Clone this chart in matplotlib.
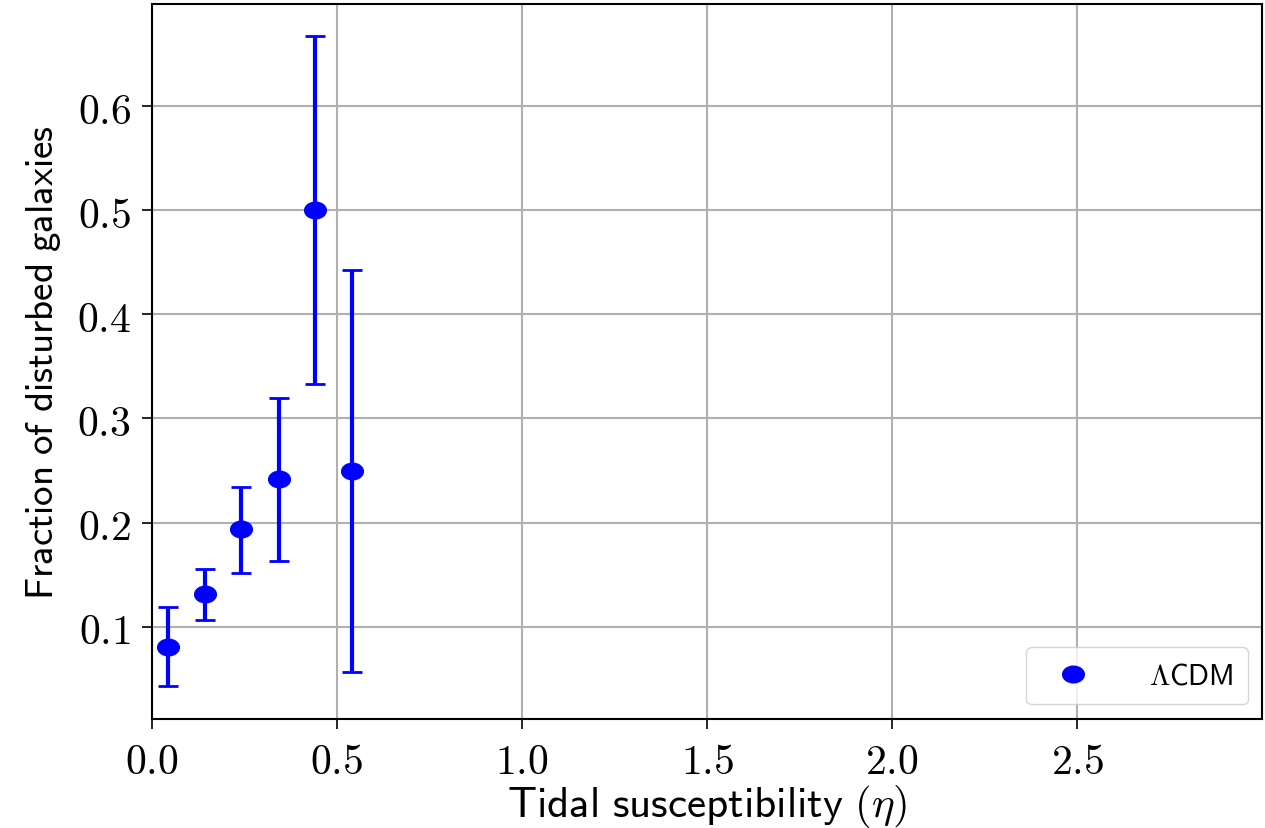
import numpy as np
import matplotlib.pyplot as plt
from matplotlib.markers import MarkerStyle
from matplotlib.transforms import Affine2D

plt.rcParams['mathtext.fontset'] = 'cm'

# binned tidal susceptibility and fraction of disturbed galaxies
eta = [0.043, 0.143, 0.242, 0.343, 0.442, 0.542]
frac = [0.080, 0.131, 0.194, 0.242, 0.500, 0.250]
err_lo = [0.0375, 0.025, 0.042, 0.079, 0.167, 0.194]
err_hi = [0.039, 0.024, 0.040, 0.078, 0.167, 0.193]

xticks = [0.0, 0.5, 1.0, 1.5, 2.0, 2.5]
yticks = [0.1, 0.2, 0.3, 0.4, 0.5, 0.6]

fig = plt.figure(figsize=(12.65, 8.29), dpi=100)
ax = fig.add_axes([0.120, 0.1315, 0.878, 0.8625])

# slightly wide dots
dot = MarkerStyle('o', transform=Affine2D().scale(1.3, 1.0))

ax.errorbar(eta, frac, yerr=[err_lo, err_hi], fmt='none', ecolor='blue',
            elinewidth=3.0, capsize=7, capthick=2.0, zorder=3)
ax.plot(eta, frac, linestyle='none', marker=dot, markersize=12, color='blue',
        label=r'$\Lambda\mathsf{CDM}$', zorder=4)

ax.set_xlim(0, 3.0)
ax.set_xticks(xticks)
ax.set_xticklabels([r'$%.1f$' % t for t in xticks])
ax.set_yticks(yticks)
ax.set_yticklabels([r'$%.1f$' % t for t in yticks])

ax.tick_params(labelsize=30, length=7, width=1.2, pad=8)
ax.grid(True, color='#b0b0b0', linewidth=1.5)
ax.set_axisbelow(True)
for s in ax.spines.values():
    s.set_linewidth(1.5)

ax.set_xlabel(r'$\mathsf{Tidal\ susceptibility}\ (\eta)$', fontsize=31, labelpad=0)
ax.set_ylabel(r'$\mathsf{Fraction\ of\ disturbed\ galaxies}$', fontsize=28, labelpad=10)

ax.legend(loc='lower right', fontsize=21, handletextpad=1.5, handlelength=2.2,
          borderpad=0.5, numpoints=1)

fig.savefig('out.png', dpi=100)
